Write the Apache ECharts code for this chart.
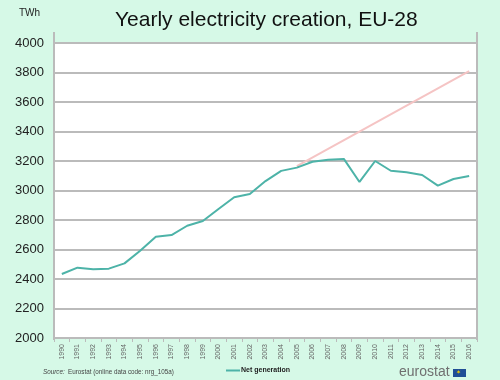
<!DOCTYPE html>
<html>
<head>
<meta charset="utf-8">
<script src="https://cdn.jsdelivr.net/npm/echarts@6/dist/echarts.min.js"></script>
<style>html,body{margin:0;padding:0;background:#d6f9e7;}#c{width:500px;height:380px;}</style>
</head>
<body>
<div id="c"></div>
<script>
var years = ['1990','1991','1992','1993','1994','1995','1996','1997','1998','1999','2000','2001','2002','2003','2004','2005','2006','2007','2008','2009','2010','2011','2012','2013','2014','2015','2016'];
var netGeneration = [2434,2477,2466,2470,2506,2592,2687,2698,2761,2793,2875,2954,2976,3064,3133,3155,3195,3209,3214,3058,3200,3134,3123,3105,3033,3078,3098];
var trend = [null,null,null,null,null,null,null,null,null,null,null,null,null,null,null,3165,null,null,null,null,null,null,null,null,null,null,3810];
var yTicks = {min: 2000, max: 4000, interval: 200};

var chart = echarts.init(document.getElementById('c'));
chart.setOption({
  backgroundColor: '#d6f9e7',
  animation: false,
  title: {
    text: 'Yearly electricity creation, EU-28',
    left: 110, top: 5,
    textStyle: {fontFamily: 'Liberation Sans', fontSize: 21, fontWeight: 'normal', color: '#111'}
  },
  grid: {left: 54, right: 23, top: 43, bottom: 42},
  legend: {
    left: 221, top: 362, itemWidth: 14, itemHeight: 2, itemGap: 2,
    icon: 'rect',
    data: [{name: 'Net generation'}],
    textStyle: {fontFamily: 'Liberation Sans', fontSize: 7, fontWeight: 'bold', color: '#222', padding: [0,0,0,-4]}
  },
  xAxis: {
    type: 'category', data: years, boundaryGap: true,
    axisLine: {lineStyle: {color: '#bbbbbb', width: 2}},
    axisTick: {show: true, length: 4, lineStyle: {color: '#bbbbbb'}},
    axisLabel: {rotate: 90, fontSize: 7, color: '#666', fontFamily: 'Liberation Sans', margin: 6, interval: 0}
  },
  yAxis: {
    type: 'value', min: yTicks.min, max: yTicks.max, interval: yTicks.interval,
    axisLine: {show: false},
    axisTick: {show: false},
    splitLine: {lineStyle: {color: '#bbbbbb', width: 2}},
    axisLabel: {fontSize: 13, color: '#222', fontFamily: 'Liberation Sans', margin: 10,
      formatter: function (v) { return String(v); }}
  },
  series: [
    {name: 'Trend', type: 'line', data: trend, connectNulls: true, symbol: 'none',
     lineStyle: {color: '#f5c4c4', width: 2}, z: 1},
    {name: 'Net generation', type: 'line', data: netGeneration, symbol: 'none',
     itemStyle: {color: '#4db3a8'},
     lineStyle: {color: '#4db3a8', width: 2}, z: 2}
  ],
  graphic: [
    {type: 'rect', shape: {x: 54, y: 43, width: 423, height: 295}, style: {fill: '#ffffff'}, z: -10, silent: true},
    {type: 'line', shape: {x1: 54, y1: 32, x2: 54, y2: 340}, style: {stroke: '#bbbbbb', lineWidth: 2}, z: 10},
    {type: 'line', shape: {x1: 477, y1: 32, x2: 477, y2: 340}, style: {stroke: '#bbbbbb', lineWidth: 2}, z: 10},
    {type: 'text', left: 19, top: 8, style: {text: 'TWh', fontSize: 10, fill: '#222', fontFamily: 'Liberation Sans'}},
    {type: 'text', left: 43, top: 366, style: {rich: {i: {fontStyle: 'italic', fontSize: 6.3, fill: '#444', fontFamily: 'Liberation Sans'}, n: {fontSize: 6.3, fill: '#444', fontFamily: 'Liberation Sans'}}, text: '{i|Source:} {n|Eurostat (online data code: nrg_105a)}'}},
    {type: 'text', left: 399, top: 365, style: {text: 'eurostat', fontSize: 14, fill: '#707070', fontFamily: 'Liberation Sans'}},
    {type: 'rect', shape: {x: 453, y: 369, width: 13, height: 8}, style: {fill: '#1f4e96'}},
    {type: 'text', left: 456, top: 369.5, style: {text: '✶', fontSize: 6, fill: '#f5d000'}}
  ]
});
</script>
</body>
</html>
